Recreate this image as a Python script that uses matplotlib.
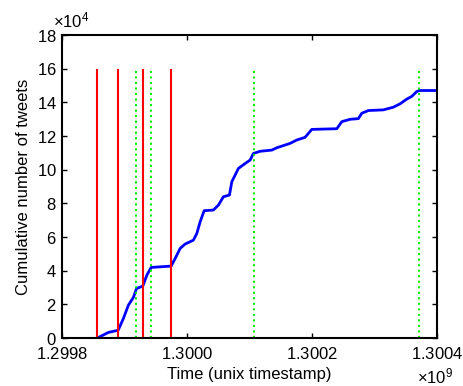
import matplotlib
matplotlib.use("Agg")
import matplotlib.pyplot as plt
from matplotlib.ticker import ScalarFormatter

plt.rcParams['font.family'] = ['Liberation Sans', 'DejaVu Sans']
plt.rcParams['mathtext.fontset'] = 'custom'
plt.rcParams['mathtext.rm'] = 'Liberation Sans'
plt.rcParams['mathtext.it'] = 'Liberation Sans'

# cumulative tweet count over time (unix timestamp)
times = [1299856000, 1299874000, 1299889600, 1299898000, 1299906000, 1299914000,
         1299919000, 1299929000, 1299935500, 1299942400, 1299974400, 1299980800,
         1299988800, 1299996800, 1300010000, 1300015500, 1300020800, 1300027200,
         1300042000, 1300050000, 1300058000, 1300067700, 1300071500, 1300082000,
         1300090000, 1300100800, 1300106000, 1300116800, 1300135500, 1300143500,
         1300164800, 1300175500, 1300188800, 1300194000, 1300199500, 1300239500,
         1300247500, 1300260800, 1300274000, 1300279500, 1300290000, 1300314000,
         1300330000, 1300340800, 1300351500, 1300359500, 1300367500, 1300371700,
         1300400000]
tweets = [0, 3400, 4700, 11700, 19600, 24200,
          29500, 30900, 37400, 42000, 42800, 47300,
          53300, 55900, 58200, 62200, 69100, 75700,
          76100, 79000, 84000, 85000, 92900, 100800,
          103000, 105800, 109700, 111000, 111700, 113100,
          115700, 117700, 119300, 121600, 124000, 124400,
          128600, 130000, 130400, 133600, 135200, 135600,
          137200, 139200, 142000, 143600, 146500, 147100,
          147100]

# event markers
red_events = [1299856000, 1299889600, 1299929100, 1299974400]
green_events = [1299918900, 1299942400, 1300107200, 1300371700]

fs = 12

fig = plt.figure(figsize=(4.64, 3.86), dpi=100)
ax = fig.add_axes([0.134, 0.124, 0.808, 0.785])

ax.plot(times, tweets, color='#0000ff', lw=2)
ax.vlines(red_events, 0, 160000, colors='#ff0000', lw=1.5)
ax.vlines(green_events, 0, 160000, colors='#00ee00', linestyles=':', lw=1.5)

ax.set_xlim(1.2998e9, 1.3004e9)
ax.set_ylim(0, 180000)
ax.set_xticks([1.2998e9, 1.3000e9, 1.3002e9, 1.3004e9])
ax.set_yticks(range(0, 180001, 20000))

xf = ScalarFormatter(useMathText=True, useOffset=False)
xf.set_scientific(True)
xf.set_powerlimits((9, 9))
ax.xaxis.set_major_formatter(xf)
yf = ScalarFormatter(useMathText=True, useOffset=False)
yf.set_scientific(True)
yf.set_powerlimits((4, 4))
ax.yaxis.set_major_formatter(yf)

ax.tick_params(direction='in', length=3.5, width=1, top=True, right=True, labelsize=fs)
ax.tick_params(axis='x', pad=6)
ax.tick_params(axis='y', pad=4)
for s in ax.spines.values():
    s.set_linewidth(1.5)
ax.xaxis.get_offset_text().set_visible(False)
ax.yaxis.get_offset_text().set_visible(False)
fig.text(0.899, 0.008, r"$\times10^{9}$", fontsize=fs, ha='left', va='baseline')
fig.text(0.114, 0.930, r"$\times10^{4}$", fontsize=fs, ha='left', va='baseline')

ax.set_xlabel("Time (unix timestamp)", fontsize=fs, labelpad=3)
ax.set_ylabel("Cumulative number of tweets", fontsize=fs, labelpad=4)

fig.savefig("out.png", dpi=100)
